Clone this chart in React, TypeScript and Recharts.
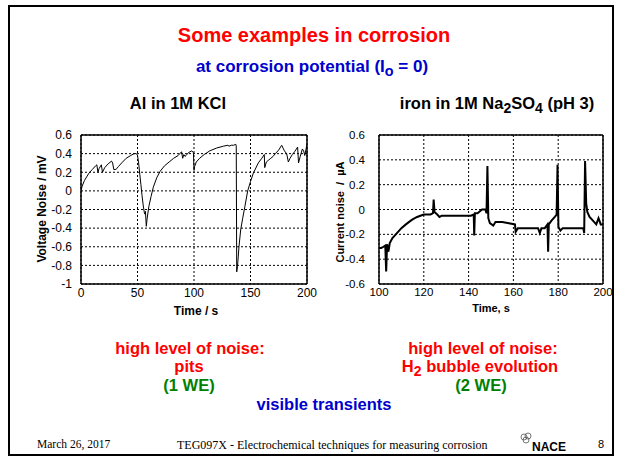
import React from 'react';
import { LineChart, Line, XAxis, YAxis, CartesianGrid } from 'recharts';

// ---- Al in 1M KCl : voltage noise (mV) vs time (s)
const alTime = [
  0, 1, 3, 5, 7, 10, 13, 14, 15, 16, 18, 19, 21, 24, 27, 28, 29, 31, 33, 36, 40, 44, 47, 49,
  50, 51, 52, 53, 54, 55, 56, 56.5, 57, 57.8, 58.5, 60, 62, 64, 67, 70, 74, 78, 82, 86, 89, 90,
  91, 92, 93, 95, 98, 99.5, 100, 100.5, 102, 105, 109, 114, 120, 126, 130, 131, 133, 135, 137,
  137.4, 137.8, 138.5, 139.2, 139.8, 141.3, 143, 145, 147.5, 150, 152.5, 156.9, 160, 162.2,
  162.6, 164, 166, 168, 170, 172, 175, 177.6, 180, 182, 183.5, 185, 187, 189, 191.7, 192.5,
  194, 195.9, 197, 198, 199, 200,
];
const alVoltage = [
  0.0, 0.05, 0.11, 0.15, 0.19, 0.23, 0.27, 0.28, 0.2, 0.24, 0.28, 0.2, 0.25, 0.29, 0.32, 0.3,
  0.23, 0.23, 0.26, 0.3, 0.35, 0.38, 0.4, 0.4, 0.38, 0.3, 0.18, 0.07, -0.05, -0.15, -0.23,
  -0.25, -0.22, -0.38, -0.3, -0.17, -0.06, 0.04, 0.14, 0.21, 0.27, 0.31, 0.35, 0.38, 0.42,
  0.35, 0.39, 0.37, 0.38, 0.41, 0.43, 0.41, 0.22, 0.26, 0.31, 0.35, 0.39, 0.43, 0.46, 0.48,
  0.49, 0.48, 0.49, 0.49, 0.5, 0.48, -0.87, -0.81, -0.7, -0.6, -0.42, -0.3, -0.17, 0.0, 0.1,
  0.19, 0.3, 0.35, 0.39, 0.25, 0.31, 0.33, 0.35, 0.37, 0.4, 0.44, 0.49, 0.43, 0.4, 0.31, 0.35,
  0.39, 0.42, 0.47, 0.3, 0.37, 0.45, 0.43, 0.38, 0.44, 0.5,
];
const alXTicks = [0, 50, 100, 150, 200];
const alYTicks = [-1, -0.8, -0.6, -0.4, -0.2, 0, 0.2, 0.4, 0.6];
const alXMinor = [0, 10, 20, 30, 40, 50, 60, 70, 80, 90, 100, 110, 120, 130, 140, 150, 160, 170, 180, 190, 200];
const alYMinor = [-1, -0.9, -0.8, -0.7, -0.6, -0.5, -0.4, -0.3, -0.2, -0.1, 0, 0.1, 0.2, 0.3, 0.4, 0.5, 0.6];

// ---- iron in 1M Na2SO4 : current noise (uA) vs time (s)
const ironTime = [
  100, 101, 102, 102.8, 103.2, 103.6, 104.2, 104.8, 106, 107.5, 110, 112, 114.2, 115, 117, 120,
  123, 124.1, 124.4, 124.8, 126, 127, 128, 130, 133, 136, 139, 141, 142.3, 142.5, 142.8, 144,
  146, 147.5, 148.0, 148.4, 148.8, 149.5, 151, 152, 155, 158, 160.7, 161, 162, 165, 168, 171,
  171.8, 172.5, 174, 175.2, 175.5, 175.8, 177, 178.5, 179.3, 179.7, 180.1, 181, 182, 185, 188,
  191.2, 191.6, 192.0, 192.5, 193, 194, 195.5, 197, 198, 199, 200,
];
const ironCurrent = [
  -0.31, -0.31, -0.3, -0.29, -0.5, -0.28, -0.34, -0.27, -0.23, -0.2, -0.15, -0.12, -0.09,
  -0.08, -0.06, -0.04, -0.04, -0.03, 0.08, -0.02, -0.04, -0.06, -0.05, -0.05, -0.05, -0.05,
  -0.05, -0.05, -0.04, -0.21, -0.03, -0.03, 0.0, 0.0, -0.03, 0.35, -0.07, -0.11, -0.13, -0.1,
  -0.1, -0.11, -0.12, -0.18, -0.15, -0.15, -0.15, -0.15, -0.19, -0.15, -0.15, -0.12, -0.34,
  -0.12, -0.09, -0.06, -0.04, 0.36, -0.14, -0.17, -0.15, -0.15, -0.15, -0.15, -0.19, 0.39,
  0.05, -0.02, -0.06, -0.09, -0.12, -0.07, -0.12, -0.12,
];
const ironXTicks = [100, 120, 140, 160, 180, 200];
const ironYTicks = [-0.6, -0.4, -0.2, 0, 0.2, 0.4, 0.6];
const ironXMinor = [100, 105, 110, 115, 120, 125, 130, 135, 140, 145, 150, 155, 160, 165, 170, 175, 180, 185, 190, 195, 200];
const ironYMinor = [-0.6, -0.55, -0.5, -0.45, -0.4, -0.35, -0.3, -0.25, -0.2, -0.15, -0.1, -0.05, 0, 0.05, 0.1, 0.15, 0.2, 0.25, 0.3, 0.35, 0.4, 0.45, 0.5, 0.55, 0.6];

const SANS = '"Liberation Sans", Arial, Helvetica, sans-serif';
const SERIF = '"Liberation Serif", "Times New Roman", serif';

const fmt = (v: number) => String(Number(v.toFixed(2)));

type PlotProps = {
  data: { t: number; v: number }[];
  xDomain: [number, number];
  yDomain: [number, number];
  xTicks: number[];
  yTicks: number[];
  xMinor: number[];
  yMinor: number[];
  strokeWidth: number;
  left: number;
  top: number;
  width: number;
  height: number;
  yAxisWidth: number;
  marginRight: number;
  yTickMargin: number;
  fontSize: number;
};

function NoisePlot(p: PlotProps) {
  const tickStyle = { fill: '#000', fontSize: p.fontSize, fontFamily: SANS };
  return (
    <div style={{ position: 'absolute', left: p.left, top: p.top }}>
      <LineChart
        width={p.width}
        height={p.height}
        data={p.data}
        margin={{ top: 15, right: p.marginRight, left: 0, bottom: 0 }}
      >
        <CartesianGrid stroke="#000" strokeDasharray="2 2" strokeWidth={1} />
        <XAxis
          dataKey="t"
          type="number"
          domain={p.xDomain}
          ticks={p.xTicks}
          interval={0}
          allowDataOverflow
          axisLine={false}
          tickLine={false}
          tickSize={0}
          tickMargin={4}
          height={36}
          tick={tickStyle}
        />
        <YAxis
          dataKey="v"
          type="number"
          domain={p.yDomain}
          ticks={p.yTicks}
          interval={0}
          allowDataOverflow
          axisLine={false}
          tickLine={false}
          tickSize={0}
          tickMargin={p.yTickMargin}
          width={p.yAxisWidth}
          tick={tickStyle}
          tickFormatter={fmt}
        />
        <XAxis xAxisId="bm" dataKey="t" type="number" domain={p.xDomain} ticks={p.xMinor} interval={0}
          allowDataOverflow mirror orientation="bottom" tick={false} tickSize={3}
          axisLine={{ stroke: '#000', strokeWidth: 1.5 }} tickLine={{ stroke: '#000' }} />
        <XAxis xAxisId="tm" dataKey="t" type="number" domain={p.xDomain} ticks={p.xMinor} interval={0}
          allowDataOverflow mirror orientation="top" tick={false} tickSize={3}
          axisLine={{ stroke: '#000', strokeWidth: 1.5 }} tickLine={{ stroke: '#000' }} />
        <YAxis yAxisId="lm" dataKey="v" type="number" domain={p.yDomain} ticks={p.yMinor} interval={0}
          allowDataOverflow mirror orientation="left" tick={false} tickSize={3}
          axisLine={{ stroke: '#000', strokeWidth: 1.5 }} tickLine={{ stroke: '#000' }} />
        <YAxis yAxisId="rm" dataKey="v" type="number" domain={p.yDomain} ticks={p.yMinor} interval={0}
          allowDataOverflow mirror orientation="right" tick={false} tickSize={3}
          axisLine={{ stroke: '#000', strokeWidth: 1.5 }} tickLine={{ stroke: '#000' }} />
        <Line
          dataKey="v"
          type="linear"
          stroke="#000"
          strokeWidth={p.strokeWidth}
          dot={false}
          activeDot={false}
          isAnimationActive={false}
        />
      </LineChart>
    </div>
  );
}

function Text(props: {
  cx: number; top: number; size: number; color: string; bold?: boolean;
  family?: string; children: React.ReactNode; width?: number;
}) {
  const w = props.width ?? 420;
  return (
    <div
      style={{
        position: 'absolute',
        left: props.cx - w / 2,
        top: props.top,
        width: w,
        textAlign: 'center',
        fontSize: props.size,
        lineHeight: 1,
        color: props.color,
        fontWeight: props.bold === false ? 'normal' : 'bold',
        fontFamily: props.family ?? SANS,
        whiteSpace: 'pre',
      }}
    >
      {props.children}
    </div>
  );
}

const Sub = ({ children }: { children: React.ReactNode }) => (
  <span style={{ fontSize: '0.85em', position: 'relative', top: '0.3em' }}>{children}</span>
);

export default function App() {
  const alData = alTime.map((t, i) => ({ t, v: alVoltage[i] }));
  const ironData = ironTime.map((t, i) => ({ t, v: ironCurrent[i] }));
  const RED = '#ff0000';
  const BLUE = '#0000cc';
  const GREEN = '#008000';
  return (
    <div style={{ position: 'absolute', left: 0, top: 0, width: 619, height: 461, background: '#fff', overflow: 'hidden' }}>
      <div style={{ position: 'absolute', left: 8, top: 5, width: 606, height: 451, border: '2px solid #000', boxSizing: 'border-box' }} />

      <Text cx={314} top={25} size={20} color={RED}>Some examples in corrosion</Text>
      <Text cx={312} top={58} size={17} color={BLUE}>
        at corrosion potential (I<Sub>o</Sub> = 0)
      </Text>
      <Text cx={178} top={95} size={16.5} color="#000">Al in 1M KCl</Text>
      <Text cx={497} top={95} size={16.5} color="#000">
        iron in 1M Na<Sub>2</Sub>SO<Sub>4</Sub> (pH 3)
      </Text>

      <NoisePlot
        data={alData}
        xDomain={[0, 200]}
        yDomain={[-1, 0.6]}
        xTicks={alXTicks}
        yTicks={alYTicks}
        xMinor={alXMinor}
        yMinor={alYMinor}
        strokeWidth={1}
        left={30}
        top={120}
        width={290}
        height={200}
        yAxisWidth={51}
        marginRight={13}
        yTickMargin={9}
        fontSize={12}
      />
      <NoisePlot
        data={ironData}
        xDomain={[100, 200]}
        yDomain={[-0.6, 0.6]}
        xTicks={ironXTicks}
        yTicks={ironYTicks}
        xMinor={ironXMinor}
        yMinor={ironYMinor}
        strokeWidth={2}
        left={320}
        top={120}
        width={300}
        height={200}
        yAxisWidth={59}
        marginRight={17}
        yTickMargin={14}
        fontSize={11.5}
      />

      {/* axis titles */}
      <div style={{ position: 'absolute', left: 42 - 100, top: 209 - 7, width: 200, height: 14, lineHeight: '14px', textAlign: 'center', transform: 'rotate(-90deg)', fontFamily: SANS, fontWeight: 'bold', fontSize: 12, color: '#000' }}>
        Voltage Noise / mV
      </div>
      <div style={{ position: 'absolute', left: 340 - 100, top: 212 - 7, width: 200, height: 14, lineHeight: '14px', textAlign: 'center', transform: 'rotate(-90deg)', fontFamily: SANS, fontWeight: 'bold', fontSize: 11, color: '#000', whiteSpace: 'pre' }}>
        {'Current noise  /  µA'}
      </div>
      <Text cx={196} top={305} size={12} color="#000" width={100}>Time / s</Text>
      <Text cx={491} top={303} size={11} color="#000" width={100}>Time, s</Text>

      {/* bottom notes */}
      <Text cx={190} top={340} size={16.5} color={RED}>high level of noise:</Text>
      <Text cx={189} top={358} size={16.5} color={RED}>pits</Text>
      <Text cx={189} top={377} size={16.5} color={GREEN}>(1 WE)</Text>
      <Text cx={483} top={340} size={16.5} color={RED}>high level of noise:</Text>
      <Text cx={480} top={358} size={16.5} color={RED}>
        H<Sub>2</Sub> bubble evolution
      </Text>
      <Text cx={481} top={377} size={16.5} color={GREEN}>(2 WE)</Text>
      <Text cx={324} top={396} size={16.5} color={BLUE}>visible transients</Text>

      {/* footer */}
      <div style={{ position: 'absolute', left: 37, top: 439, fontFamily: SERIF, fontSize: 11.5, lineHeight: 1, color: '#000', whiteSpace: 'pre' }}>
        March 26, 2017
      </div>
      <div style={{ position: 'absolute', left: 177, top: 439, fontFamily: SERIF, fontSize: 12, lineHeight: 1, color: '#000', whiteSpace: 'pre' }}>
        TEG097X - Electrochemical techniques for measuring corrosion
      </div>
      <svg style={{ position: 'absolute', left: 519, top: 432 }} width={16} height={14}>
        <circle cx={5} cy={5} r={3} fill="none" stroke="#555" strokeWidth={0.8} />
        <circle cx={9} cy={4} r={3} fill="none" stroke="#555" strokeWidth={0.8} />
        <circle cx={7} cy={8} r={3} fill="none" stroke="#555" strokeWidth={0.8} />
      </svg>
      <div style={{ position: 'absolute', left: 532, top: 441, fontFamily: SANS, fontWeight: 'bold', fontSize: 12, lineHeight: 1, color: '#000' }}>
        NACE
      </div>
      <div style={{ position: 'absolute', left: 598, top: 439, fontFamily: SANS, fontSize: 11, lineHeight: 1, color: '#000' }}>
        8
      </div>
    </div>
  );
}
